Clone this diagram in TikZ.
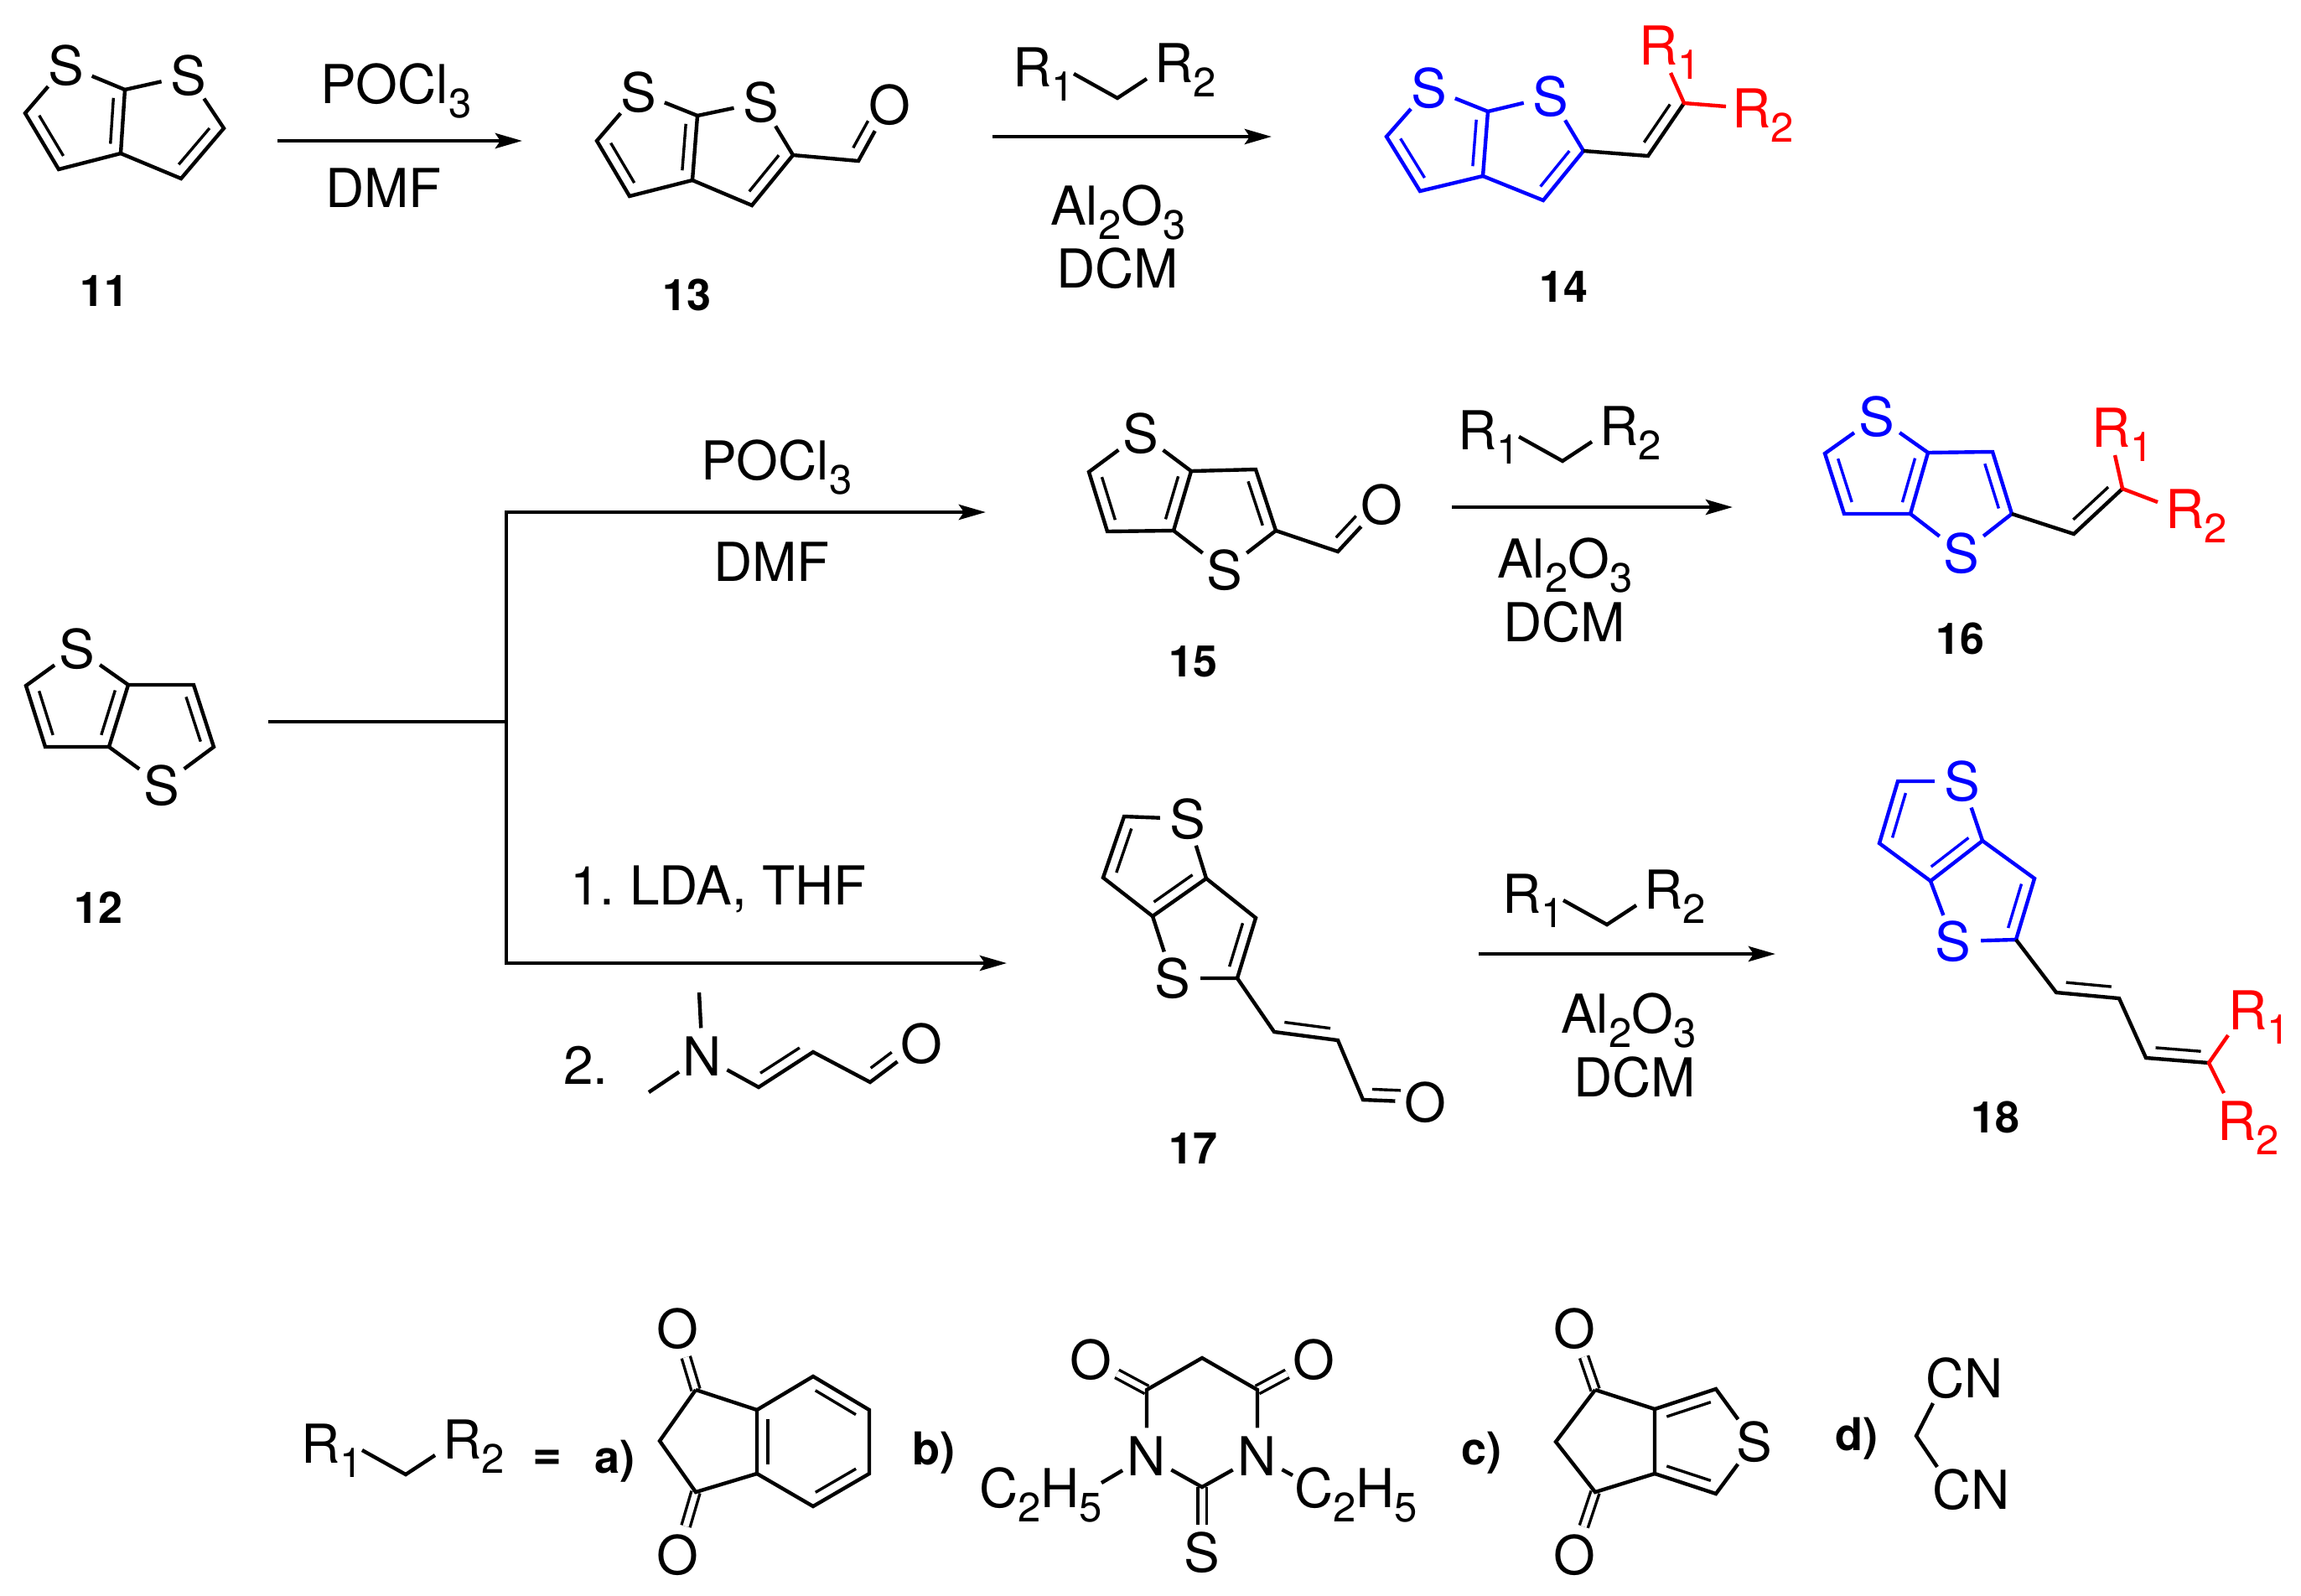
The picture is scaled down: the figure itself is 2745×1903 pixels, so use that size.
\documentclass[tikz,border=0pt]{standalone}
\usepackage{fontspec}
\setmainfont{TeX Gyre Heros}
\usetikzlibrary{arrows.meta,calc}

\newcommand{\chemsub}[1]{\raisebox{-8.5pt}{\fontsize{24.5}{24.5}\selectfont #1}}
% inner line of a double bond, on the left of a->b
\newcommand{\dbl}[3][.86]{\draw[line width=1.7pt] ($(#2)!.14!(#3)!6.5pt!90:(#3)$) -- ($(#2)!#1!(#3)!6.5pt!90:(#3)$);}

\tikzset{
  lab/.style={anchor=base west,inner sep=0pt,xshift=-2.5pt},
  atom/.style={circle,inner sep=-.5pt},
  cpdno/.style={font=\fontsize{26}{28}\selectfont\bfseries,inner sep=0pt},
  caselab/.style={lab,font=\fontsize{27}{29}\selectfont\bfseries},
  rxn/.style={line width=2.4pt,-{Stealth[length=16pt,width=9pt,inset=3pt]}},
  twin/.style={double,line width=1.7pt,double distance=3.5pt},
  methylene/.pic={
    \node[lab] (-ra) at (0,0) {R\chemsub{1}};
    \node[lab] (-rb) at (169,-5) {R\chemsub{2}};
    \path (70,-15) coordinate (-p) (122,14) coordinate (-v) (157,-9) coordinate (-q);
    \draw (-p) -- (-v) -- (-q);
  }
}

\begin{document}
\begin{tikzpicture}[x=.5pt,y=-.5pt,line width=2.2pt,
    every node/.style={font=\fontsize{32}{34}\selectfont}]
  \useasboundingbox (0,0) rectangle (2745,1903);

  % Compound 11
  \node[atom] (s11a) at (79,78) {S};
  \node[atom] (s11b) at (225,90) {S};
  \path (149,107) coordinate (jt11) (144,183) coordinate (jb11) (70,202) coordinate (lb11)
    (30,135) coordinate (l11) (216,213) coordinate (rb11) (267,153) coordinate (r11);
  \draw (s11a) -- (l11) -- (lb11) -- (jb11) -- (jt11) -- (s11a);
  \draw (jt11) -- (s11b) -- (r11) -- (rb11) -- (jb11);
  \dbl{l11}{lb11} \dbl{jb11}{jt11} \dbl{rb11}{r11}
  \node[cpdno] (n11) at (124,347) {11};

  % Step 11 to 13
  \path (331,168) coordinate (a1s) (623,168) coordinate (a1e);
  \draw[rxn] (a1s) -- (a1e);
  \node[lab] (p1) at (385,123) {POCl\chemsub{3}};
  \node[lab] (d1) at (391,247) {DMF};

  % Compound 13
  \node[atom] (s13a) at (762,110) {S};
  \node[atom] (s13b) at (908,122) {S};
  \node[atom] (o13) at (1061,125) {O};
  \path (832,138) coordinate (jt13) (826,215) coordinate (jb13) (751,234) coordinate (lb13)
    (712,168) coordinate (l13) (897,245) coordinate (rb13) (946,185) coordinate (r13)
    (1024,192) coordinate (c13);
  \draw (s13a) -- (l13) -- (lb13) -- (jb13) -- (jt13) -- (s13a);
  \draw (jt13) -- (s13b) -- (r13) -- (rb13) -- (jb13);
  \draw (r13) -- (c13) -- (o13);
  \dbl{l13}{lb13} \dbl{jb13}{jt13} \dbl{rb13}{r13} \dbl[.62]{c13}{o13}
  \node[cpdno] (n13) at (819,352) {13};

  % Step 13 to 14
  \pic (m14) at (1211,103) {methylene};
  \path (1184,163) coordinate (a2s) (1517,163) coordinate (a2e);
  \draw[rxn] (a2s) -- (a2e);
  \node[lab] (al14) at (1256,268) {Al\chemsub{2}O\chemsub{3}};
  \node[lab] (dc14) at (1263,343) {DCM};

  % Compound 14
  \begin{scope}[blue]
    \node[atom] (s14a) at (1705,105) {S};
    \node[atom] (s14b) at (1850,115) {S};
    \path (1775,133) coordinate (jt14) (1769,210) coordinate (jb14) (1694,228) coordinate (lb14)
      (1654,163) coordinate (l14) (1841,239) coordinate (rb14) (1889,180) coordinate (r14);
    \draw (s14a) -- (l14) -- (lb14) -- (jb14) -- (jt14) -- (s14a);
    \draw (jt14) -- (s14b) -- (r14) -- (rb14) -- (jb14);
    \dbl{l14}{lb14} \dbl{jb14}{jt14} \dbl{rb14}{r14}
  \end{scope}
  \path (1966,186) coordinate (c14a) (2009,123) coordinate (c14b)
    (1993,87) coordinate (e14a) (2059,127) coordinate (e14b);
  \draw (r14) -- (c14a) -- (c14b);
  \dbl{c14a}{c14b}
  \begin{scope}[red]
    \node[lab] (r14a) at (1958,77) {R\chemsub{1}};
    \node[lab] (r14b) at (2069,152) {R\chemsub{2}};
    \draw (e14a) -- (c14b) -- (e14b);
  \end{scope}
  \node[cpdno] (n14) at (1865,342) {14};

  % Compound 12 and the branch
  \node[atom] (s12a) at (92,774) {S};
  \node[atom] (s12b) at (193,937) {S};
  \path (153,817) coordinate (jt12) (130,891) coordinate (jb12) (31,818) coordinate (lt12)
    (54,891) coordinate (lb12) (231,817) coordinate (rt12) (255,891) coordinate (rb12);
  \draw (s12a) -- (lt12) -- (lb12) -- (jb12) -- (jt12) -- (s12a);
  \draw (jt12) -- (rt12) -- (rb12) -- (s12b) -- (jb12);
  \dbl{lt12}{lb12} \dbl{jb12}{jt12} \dbl{rb12}{rt12}
  \node[cpdno] (n12) at (117,1083) {12};

  \path (320,861) coordinate (bs) (604,861) coordinate (bm) (604,611) coordinate (bt)
    (604,1149) coordinate (bb) (1176,611) coordinate (a3e) (1201,1149) coordinate (a4e);
  \draw[line width=2.4pt] (bs) -- (bm);
  \draw[rxn] (bm) -- (bt) -- (a3e);
  \draw[rxn] (bm) -- (bb) -- (a4e);

  \node[lab] (p2) at (839,572) {POCl\chemsub{3}};
  \node[lab] (d2) at (854,693) {DMF};
  \node[lab] (lda) at (683,1079) {1.\ LDA,\ THF};

  % Second reagent of the lower branch
  \node[lab] (two) at (675,1293) {2.};
  \node[atom] (nr) at (838,1260) {N};
  \node[atom] (or) at (1099,1245) {O};
  \path (834,1184) coordinate (me1) (774,1303) coordinate (me2) (905,1297) coordinate (cr1)
    (970,1255) coordinate (cr2) (1038,1291) coordinate (cr3);
  \draw (me1) -- (nr) -- (me2);
  \draw (nr) -- (cr1) -- (cr2) -- (cr3) -- (or);
  \dbl{cr1}{cr2} \dbl[.55]{cr3}{or}

  % Compound 15
  \node[atom] (s15a) at (1361,517) {S};
  \node[atom] (s15b) at (1461,680) {S};
  \node[atom] (o15) at (1648,602) {O};
  \path (1421,562) coordinate (jt15) (1400,633) coordinate (jb15) (1299,563) coordinate (lt15)
    (1321,634) coordinate (lb15) (1498,560) coordinate (rt15) (1522,633) coordinate (rb15)
    (1596,658) coordinate (c15);
  \draw (s15a) -- (lt15) -- (lb15) -- (jb15) -- (jt15) -- (s15a);
  \draw (jt15) -- (rt15) -- (rb15) -- (s15b) -- (jb15);
  \draw (rb15) -- (c15) -- (o15);
  \dbl{lt15}{lb15} \dbl{jb15}{jt15} \dbl{rb15}{rt15} \dbl[.6]{c15}{o15}
  \node[cpdno] (n15) at (1423,789) {15};

  % Step 15 to 16
  \pic (m16) at (1742,536) {methylene};
  \path (1732,605) coordinate (a5s) (2067,605) coordinate (a5e);
  \draw[rxn] (a5s) -- (a5e);
  \node[lab] (al16) at (1789,689) {Al\chemsub{2}O\chemsub{3}};
  \node[lab] (dc16) at (1796,765) {DCM};

  % Compound 16
  \begin{scope}[blue]
    \node[atom] (s16a) at (2239,497) {S};
    \node[atom] (s16b) at (2340,660) {S};
    \path (2300,540) coordinate (jt16) (2279,613) coordinate (jb16) (2177,541) coordinate (lt16)
      (2200,613) coordinate (lb16) (2377,539) coordinate (rt16) (2400,613) coordinate (rb16);
    \draw (s16a) -- (lt16) -- (lb16) -- (jb16) -- (jt16) -- (s16a);
    \draw (jt16) -- (rt16) -- (rb16) -- (s16b) -- (jb16);
    \dbl{lt16}{lb16} \dbl{jb16}{jt16} \dbl{rb16}{rt16}
  \end{scope}
  \path (2474,637) coordinate (c16a) (2532,583) coordinate (c16b)
    (2523,543) coordinate (e16a) (2574,599) coordinate (e16b);
  \draw (rb16) -- (c16a) -- (c16b);
  \dbl{c16a}{c16b}
  \begin{scope}[red]
    \node[lab] (r16a) at (2498,533) {R\chemsub{1}};
    \node[lab] (r16b) at (2586,630) {R\chemsub{2}};
    \draw (e16a) -- (c16b) -- (e16b);
  \end{scope}
  \node[cpdno] (n16) at (2338,762) {16};

  % Compound 17
  \node[atom] (s17a) at (1417,977) {S};
  \node[atom] (s17b) at (1399,1167) {S};
  \node[atom] (o17) at (1700,1315) {O};
  \path (1341,974) coordinate (lt17) (1316,1047) coordinate (l17) (1375,1093) coordinate (jb17)
    (1439,1048) coordinate (jt17) (1498,1095) coordinate (rt17) (1476,1167) coordinate (rb17)
    (1520,1231) coordinate (c17a) (1596,1241) coordinate (c17b) (1626,1312) coordinate (c17c);
  \draw (s17a) -- (lt17) -- (l17) -- (jb17) -- (jt17) -- (s17a);
  \draw (jt17) -- (rt17) -- (rb17) -- (s17b) -- (jb17);
  \draw (rb17) -- (c17a) -- (c17b) -- (c17c) -- (o17);
  \dbl{lt17}{l17} \dbl{jb17}{jt17} \dbl{rb17}{rt17} \dbl{c17a}{c17b} \dbl[.6]{c17c}{o17}
  \node[cpdno] (n17) at (1423,1370) {17};

  % Step 17 to 18
  \pic (m18) at (1795,1089) {methylene};
  \path (1764,1138) coordinate (a6s) (2118,1138) coordinate (a6e);
  \draw[rxn] (a6s) -- (a6e);
  \node[lab] (al18) at (1865,1232) {Al\chemsub{2}O\chemsub{3}};
  \node[lab] (dc18) at (1880,1308) {DCM};

  % Compound 18
  \begin{scope}[blue]
    \node[atom] (s18a) at (2341,932) {S};
    \node[atom] (s18b) at (2330,1123) {S};
    \path (2264,932) coordinate (lt18) (2242,1006) coordinate (l18) (2303,1051) coordinate (jb18)
      (2365,1003) coordinate (jt18) (2427,1048) coordinate (rt18) (2405,1121) coordinate (rb18);
    \draw (s18a) -- (lt18) -- (l18) -- (jb18) -- (jt18) -- (s18a);
    \draw (jt18) -- (rt18) -- (rb18) -- (s18b) -- (jb18);
    \dbl{lt18}{l18} \dbl{jb18}{jt18} \dbl{rb18}{rt18}
  \end{scope}
  \path (2453,1184) coordinate (c18a) (2528,1191) coordinate (c18b) (2560,1262) coordinate (c18c)
    (2635,1268) coordinate (c18d) (2658,1235) coordinate (e18a) (2653,1304) coordinate (e18b);
  \draw (rb18) -- (c18a) -- (c18b) -- (c18c) -- (c18d);
  \dbl{c18a}{c18b} \dbl{c18c}{c18d}
  \begin{scope}[red]
    \node[lab] (r18a) at (2661,1228) {R\chemsub{1}};
    \node[lab] (r18b) at (2648,1360) {R\chemsub{2}};
    \draw (e18a) -- (c18d) -- (e18b);
  \end{scope}
  \node[cpdno] (n18) at (2380,1333) {18};

  % Key to R1, R2
  \pic (mkey) at (362,1745) {methylene};
  \node[font=\fontsize{30}{32}\selectfont\bfseries,inner sep=0pt] (eq) at (653,1742) {=};

  % a)
  \node[caselab] (casea) at (712,1757) {a)};
  \node[atom] (oa1) at (808,1585) {O};
  \node[atom] (oa2) at (808,1855) {O};
  \path (830,1658) coordinate (ca1) (787,1719) coordinate (ca2) (830,1780) coordinate (ca3)
    (903,1682) coordinate (tla) (970,1642) coordinate (ta) (1037,1682) coordinate (tra)
    (1037,1758) coordinate (bra) (970,1797) coordinate (ba) (903,1758) coordinate (bla);
  \draw[twin] (ca1) -- (oa1);
  \draw[twin] (ca3) -- (oa2);
  \draw (ca1) -- (ca2) -- (ca3) -- (bla) -- (tla) -- (ca1);
  \draw (tla) -- (ta) -- (tra) -- (bra) -- (ba) -- (bla);
  \dbl{tra}{ta} \dbl{tla}{bla} \dbl{ba}{bra}

  % b)
  \node[caselab] (caseb) at (1091,1747) {b)};
  \node[atom] (ob1) at (1301,1622) {O};
  \node[atom] (ob2) at (1567,1622) {O};
  \node[atom] (nb1) at (1368,1737) {N};
  \node[atom] (nb2) at (1500,1737) {N};
  \node[atom] (sb) at (1434,1852) {S};
  \path (1368,1658) coordinate (cb1) (1434,1620) coordinate (cb2) (1500,1658) coordinate (cb3)
    (1434,1774) coordinate (cb4) (1314,1769) coordinate (eb1) (1542,1760) coordinate (eb2);
  \draw[twin] (cb1) -- (ob1);
  \draw[twin] (cb3) -- (ob2);
  \draw[twin] (cb4) -- (sb);
  \draw (nb1) -- (cb1) -- (cb2) -- (cb3) -- (nb2) -- (cb4) -- (nb1);
  \draw (nb1) -- (eb1);
  \draw (nb2) -- (eb2);
  \node[lab] (etb1) at (1171,1798) {C\chemsub{2}H\chemsub{5}};
  \node[lab] (etb2) at (1547,1798) {C\chemsub{2}H\chemsub{5}};

  % c)
  \node[caselab] (casec) at (1746,1747) {c)};
  \node[atom] (oc1) at (1878,1585) {O};
  \node[atom] (oc2) at (1878,1855) {O};
  \node[atom] (sc) at (2093,1720) {S};
  \path (1903,1658) coordinate (cc1) (1856,1720) coordinate (cc2) (1903,1780) coordinate (cc3)
    (1974,1681) coordinate (jtc) (1974,1758) coordinate (jbc) (2047,1657) coordinate (tc)
    (2047,1782) coordinate (bc);
  \draw[twin] (cc1) -- (oc1);
  \draw[twin] (cc3) -- (oc2);
  \draw (cc1) -- (cc2) -- (cc3) -- (jbc) -- (jtc) -- (cc1);
  \draw (jtc) -- (tc) -- (sc) -- (bc) -- (jbc);
  \dbl{tc}{jtc} \dbl{jbc}{bc}

  % d)
  \node[caselab] (cased) at (2192,1730) {d)};
  \node[lab] (cn1) at (2300,1667) {CN};
  \node[lab] (cn2) at (2308,1800) {CN};
  \path (2286,1713) coordinate (vd) (2306,1674) coordinate (ed1) (2311,1750) coordinate (ed2);
  \draw (ed1) -- (vd) -- (ed2);

\end{tikzpicture}
\end{document}
